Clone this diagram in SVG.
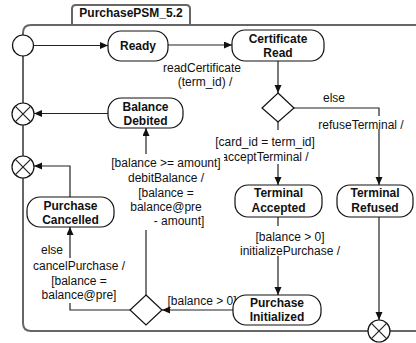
<svg xmlns="http://www.w3.org/2000/svg" width="416" height="343" viewBox="0 0 416 343">
<style>
.frame{fill:none;stroke:#666;stroke-width:2}
.tab{fill:#fff;stroke:#666;stroke-width:2}
.state{fill:#fff;stroke:#111;stroke-width:1.2}
.pseudo{fill:#fff;stroke:#111;stroke-width:1.2}
.edge{fill:none;stroke:#222;stroke-width:1.2}
.bg{fill:#fff;stroke:none}
text{font-family:"Liberation Sans",Arial,sans-serif;font-size:12px;fill:#111;text-anchor:middle}
.b{font-weight:bold}
</style>
<defs>
<marker id="arr" markerUnits="userSpaceOnUse" markerWidth="9" markerHeight="8" refX="8" refY="3.5" orient="auto">
<path d="M0,0 L8,3.5 L0,7 z" fill="#111"/>
</marker>
</defs>
<rect width="416" height="343" fill="#fff"/>
<g id="frame">
<path class="tab" d="M72 25 V9 Q72 5 76 5 H186 Q190 5 190 9 V25"/>
<text class="b" x="131" y="17">PurchasePSM_5.2</text>
<path class="frame" d="M416 25 H31 Q23 25 23 33 V323 Q23 331 31 331 H416"/>
</g>
<g id="connectors">
<path class="edge" d="M34 45.5 H108" marker-end="url(#arr)"/>
<path class="edge" d="M168 45 H232" marker-end="url(#arr)"/>
<path class="edge" d="M278 61 V93" marker-end="url(#arr)"/>
<path class="edge" d="M294 108 H379 V185" marker-end="url(#arr)"/>
<path class="edge" d="M278 122 V185" marker-end="url(#arr)"/>
<path class="edge" d="M278 217 V295" marker-end="url(#arr)"/>
<path class="edge" d="M379 217 V320" marker-end="url(#arr)"/>
<path class="edge" d="M233 310 H162" marker-end="url(#arr)"/>
<path class="edge" d="M146 295 V128" marker-end="url(#arr)"/>
<path class="edge" d="M108 113.5 H34" marker-end="url(#arr)"/>
<path class="edge" d="M130 310 H70 V227" marker-end="url(#arr)"/>
<path class="edge" d="M70 197 V166 H34" marker-end="url(#arr)"/>
<text x="202" y="72">readCertificate</text>
<text x="205" y="86">(term_id) /</text>
<text x="334" y="102">else</text>
<rect class="bg" x="316" y="116" width="90" height="13"/>
<text x="361" y="129">refuseTerminal /</text>
<rect class="bg" x="212" y="130" width="106" height="34"/>
<text x="265" y="146">[card_id = term_id]</text>
<text x="265" y="161">acceptTerminal /</text>
<rect class="bg" x="228" y="226" width="100" height="30"/>
<text x="290" y="241">[balance &gt; 0]</text>
<text x="290" y="255">initializePurchase /</text>
<rect class="bg" x="108" y="154" width="116" height="76"/>
<text x="166" y="167">[balance &gt;= amount]</text>
<text x="166" y="182">debitBalance /</text>
<text x="166" y="197">[balance =</text>
<text x="166" y="211">balance@pre</text>
<text x="179" y="225">- amount]</text>
<text x="52" y="254">else</text>
<rect class="bg" x="30" y="258" width="98" height="45"/>
<text x="79" y="270">cancelPurchase /</text>
<text x="79" y="285">[balance =</text>
<text x="79" y="299">balance@pre]</text>
<text x="202" y="305">[balance &gt; 0]</text>
</g>
<g id="initial"><circle class="pseudo" cx="23" cy="45.5" r="10.5"/></g>
<g id="exit1"><circle class="pseudo" cx="23" cy="114" r="11"/><path class="edge" d="M15.2 106.2 L30.8 121.8 M30.8 106.2 L15.2 121.8"/></g>
<g id="exit2"><circle class="pseudo" cx="23" cy="167" r="11"/><path class="edge" d="M15.2 159.2 L30.8 174.8 M30.8 159.2 L15.2 174.8"/></g>
<g id="exit3"><circle class="pseudo" cx="379" cy="331" r="11"/><path class="edge" d="M371.2 323.2 L386.8 338.8 M386.8 323.2 L371.2 338.8"/></g>
<g id="ready"><rect class="state" x="108" y="31" width="60" height="30" rx="13"/><text class="b" x="138" y="50">Ready</text></g>
<g id="certRead"><rect class="state" x="232" y="30" width="92" height="31" rx="13"/><text class="b" x="278" y="43">Certificate</text><text class="b" x="278" y="57">Read</text></g>
<g id="decision1"><path class="pseudo" d="M278 93 L294 108 L278 122 L262 108 Z"/></g>
<g id="balanceDebited"><rect class="state" x="108" y="98" width="75" height="30" rx="13"/><text class="b" x="145.5" y="111">Balance</text><text class="b" x="145.5" y="125">Debited</text></g>
<g id="terminalAccepted"><rect class="state" x="235" y="185" width="87" height="32" rx="13"/><text class="b" x="278.5" y="197">Terminal</text><text class="b" x="278.5" y="212">Accepted</text></g>
<g id="terminalRefused"><rect class="state" x="337" y="185" width="76" height="32" rx="13"/><text class="b" x="375" y="197">Terminal</text><text class="b" x="375" y="212">Refused</text></g>
<g id="purchaseCancelled"><rect class="state" x="27" y="197" width="87" height="30" rx="13"/><text class="b" x="70.5" y="210">Purchase</text><text class="b" x="70.5" y="224">Cancelled</text></g>
<g id="decision2"><path class="pseudo" d="M146 295 L162 310 L146 325 L130 310 Z"/></g>
<g id="purchaseInitialized"><rect class="state" x="233" y="295" width="88" height="30" rx="13"/><text class="b" x="277" y="307">Purchase</text><text class="b" x="277" y="321">Initialized</text></g>
</svg>
